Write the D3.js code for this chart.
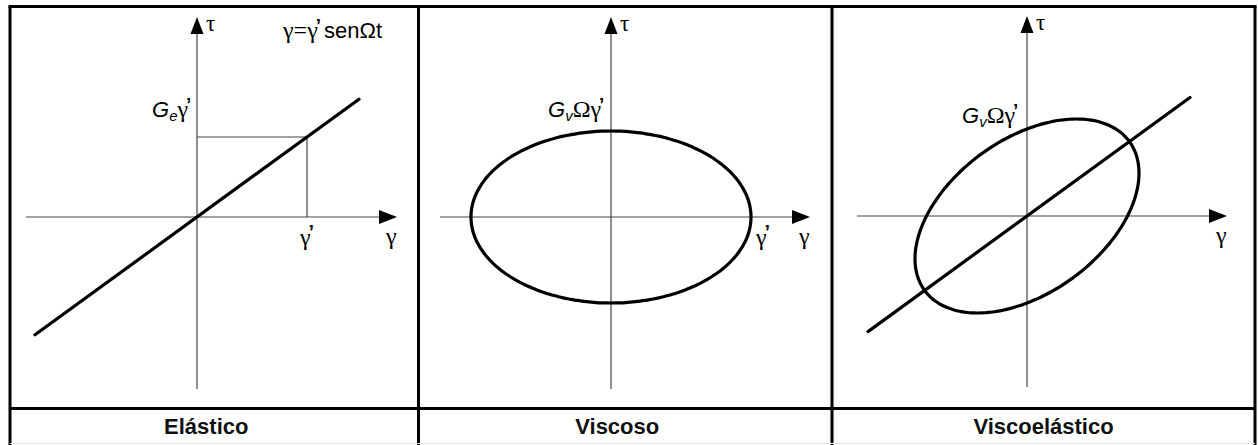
<!DOCTYPE html>
<html>
<head>
<meta charset="utf-8">
<script src="https://cdn.jsdelivr.net/npm/d3@7"></script>
<style>
  html, body { margin: 0; padding: 0; background: #fff; }
  svg { display: block; }
</style>
</head>
<body>
<svg id="chart" width="1258" height="445"></svg>
<script>
// Stress–strain response under oscillating strain γ = γ' sen Ωt
const panelTitles = ["Elástico", "Viscoso", "Viscoelástico"];

// Elastic solid: τ = Ge γ
const elasticStrainAmp = 5.5;   // γ'
const elasticStressAmp = 4.0;   // Ge γ'
const elasticLineX = [-8.1, 8.1];

// Viscous fluid: τ = Gv Ω γ' cos Ωt
const viscousStrainAmp = 7.0;   // γ'
const viscousStressAmp = 4.3;   // Gv Ω γ'

// Viscoelastic: stress leads strain by a phase angle
const viscoStrainAmp = 5.6;
const viscoStressAmp = 4.85;
const viscoPhaseDeg = 63.8;
const viscoLineX = [-7.95, 8.15];

// Axis extents (in axis units): negative end, arrow tip
const axisX = [[-8.55, 10], [-8.55, 9.95], [-8.5, 10]];
const axisY = [[-8.6, 10], [-8.6, 10], [-8.55, 10]];

const svg = d3.select("#chart");
const serif = "'Liberation Serif', 'DejaVu Serif', serif";
const sans = "'Liberation Sans', Arial, sans-serif";

// Panel layout
const cells = [
  { left: 10, right: 418.5, cx: 197, cy: 217 },
  { left: 418.5, right: 832, cx: 611, cy: 217 },
  { left: 832, right: 1255, cx: 1027, cy: 216 }
];
const tableTop = 6.5, titleRowTop = 408.5, tableBottom = 447;

const panels = cells.map(c => ({
  ...c,
  x: d3.scaleLinear().domain([-10, 10]).range([c.cx - 200, c.cx + 200]),
  y: d3.scaleLinear().domain([-10, 10]).range([c.cy + 200, c.cy - 200])
}));

const line = (p) => d3.line().x(d => p.x(d[0])).y(d => p.y(d[1]));

// Axes with arrow heads
panels.forEach((p, i) => {
  const g = svg.append("g");
  const [x0, x1] = axisX[i], [y0, y1] = axisY[i];
  g.append("line")
    .attr("x1", p.x(x0)).attr("x2", p.x(x1) - 10)
    .attr("y1", p.y(0)).attr("y2", p.y(0))
    .attr("stroke", "#444").attr("stroke-width", 1.2);
  g.append("line")
    .attr("x1", p.x(0)).attr("x2", p.x(0))
    .attr("y1", p.y(y0)).attr("y2", p.y(y1) + 10)
    .attr("stroke", "#444").attr("stroke-width", 1.2);
  const tx = p.x(x1), ty = p.y(0);
  g.append("path")
    .attr("d", `M${tx},${ty} L${tx - 18},${ty - 7} L${tx - 18},${ty + 7} Z`)
    .attr("fill", "#000");
  const ux = p.x(0), uy = p.y(y1);
  g.append("path")
    .attr("d", `M${ux},${uy} L${ux - 6.5},${uy + 17} L${ux + 6.5},${uy + 17} Z`)
    .attr("fill", "#000");
  // τ label
  g.append("text")
    .attr("x", ux + 9).attr("y", uy + 14)
    .attr("font-family", serif).attr("font-size", 23)
    .text("τ");
  // γ label
  g.append("text")
    .attr("x", tx - 11).attr("y", ty + 27)
    .attr("font-family", serif).attr("font-size", 24)
    .text("γ");
});

// Helper: γ with a prime
function gammaPrime(g, x, y) {
  const t = g.append("text")
    .attr("x", x).attr("y", y)
    .attr("font-family", serif).attr("font-size", 24);
  t.append("tspan").text("γ");
  t.append("tspan").attr("font-family", sans).attr("font-size", 20).attr("font-weight", "bold")
    .attr("dy", -6).attr("dx", -2).text("’");
  return t;
}

// Helper: modulus label such as Ge γ' or Gv Ω γ'
function modulusLabel(g, x, y, sub, withOmega) {
  const t = g.append("text")
    .attr("x", x).attr("y", y)
    .attr("font-family", sans).attr("font-size", 22);
  t.append("tspan").attr("font-style", "italic").text("G");
  t.append("tspan").attr("font-style", "italic").attr("font-size", 15).attr("dy", 4).text(sub);
  t.append("tspan").attr("font-family", serif).attr("font-size", 24).attr("dy", -4)
    .text(withOmega ? "Ωγ" : "γ");
  t.append("tspan").attr("font-size", 19).attr("font-weight", "bold")
    .attr("dy", -6).attr("dx", -2).text("’");
  return t;
}

// ---- Panel 1: elastic ----
{
  const p = panels[0];
  const g = svg.append("g");
  // reference rectangle at γ'
  g.append("path")
    .attr("d", line(p)([[0, elasticStressAmp], [elasticStrainAmp, elasticStressAmp], [elasticStrainAmp, 0]]))
    .attr("fill", "none").attr("stroke", "#444").attr("stroke-width", 1.2);
  const k = elasticStressAmp / elasticStrainAmp;
  g.append("path")
    .attr("d", line(p)(elasticLineX.map(v => [v, k * v])))
    .attr("fill", "none").attr("stroke", "#000").attr("stroke-width", 3.2)
    .attr("stroke-linecap", "round");
  modulusLabel(g, p.x(0) - 45, p.y(elasticStressAmp) - 20, "e", false);
  gammaPrime(g, p.x(elasticStrainAmp) - 7, p.y(0) + 28);
  // strain law
  const law = g.append("text")
    .attr("x", 283).attr("y", 38)
    .attr("font-family", sans).attr("font-size", 22);
  law.append("tspan").attr("font-family", serif).attr("font-size", 24).text("γ=γ");
  law.append("tspan").attr("font-size", 19).attr("font-weight", "bold")
    .attr("dy", -6).attr("dx", -2).text("’");
  law.append("tspan").attr("dy", 6).attr("dx", 3).text("senΩt");
}

// ---- Panel 2: viscous ----
{
  const p = panels[1];
  const g = svg.append("g");
  const pts = d3.range(0, 360, 2).map(a => {
    const t = a * Math.PI / 180;
    return [viscousStrainAmp * Math.sin(t), viscousStressAmp * Math.cos(t)];
  });
  g.append("path")
    .attr("d", line(p).curve(d3.curveCardinalClosed)(pts))
    .attr("fill", "none").attr("stroke", "#000").attr("stroke-width", 3.2);
  modulusLabel(g, p.x(0) - 63, p.y(0) - 100, "v", true);
  gammaPrime(g, p.x(viscousStrainAmp) + 5, p.y(0) + 28);
}

// ---- Panel 3: viscoelastic ----
{
  const p = panels[2];
  const g = svg.append("g");
  const d = viscoPhaseDeg * Math.PI / 180;
  const pts = d3.range(0, 360, 2).map(a => {
    const t = a * Math.PI / 180;
    return [viscoStrainAmp * Math.sin(t), viscoStressAmp * Math.sin(t + d)];
  });
  g.append("path")
    .attr("d", line(p).curve(d3.curveCardinalClosed)(pts))
    .attr("fill", "none").attr("stroke", "#000").attr("stroke-width", 3.2);
  const k = elasticStressAmp / elasticStrainAmp;
  g.append("path")
    .attr("d", line(p)(viscoLineX.map(v => [v, k * v])))
    .attr("fill", "none").attr("stroke", "#000").attr("stroke-width", 3.2)
    .attr("stroke-linecap", "round");
  modulusLabel(g, p.x(0) - 65, p.y(0) - 93, "v", true);
}

// ---- Table frame and titles ----
const frame = svg.append("g").attr("stroke", "#000").attr("stroke-width", 3).attr("fill", "none");
frame.append("line").attr("x1", cells[0].left - 1.5).attr("x2", cells[2].right + 1.5)
  .attr("y1", tableTop).attr("y2", tableTop);
frame.append("line").attr("x1", cells[0].left).attr("x2", cells[2].right)
  .attr("y1", titleRowTop).attr("y2", titleRowTop);
[cells[0].left, cells[1].left, cells[2].left, cells[2].right].forEach(xv => {
  frame.append("line").attr("x1", xv).attr("x2", xv).attr("y1", tableTop).attr("y2", tableBottom);
});
svg.append("line").attr("x1", cells[0].left).attr("x2", cells[2].right)
  .attr("y1", 443.5).attr("y2", 443.5).attr("stroke", "#e4e4e4").attr("stroke-width", 1);

svg.append("g").selectAll("text").data(panelTitles).join("text")
  .attr("x", (d, i) => (cells[i].left + cells[i].right) / 2 + (i === 2 ? 0 : -8))
  .attr("y", 434)
  .attr("text-anchor", "middle")
  .attr("font-family", sans).attr("font-weight", "bold").attr("font-size", 22)
  .attr("fill", "#111")
  .text(d => d);
</script>
</body>
</html>
